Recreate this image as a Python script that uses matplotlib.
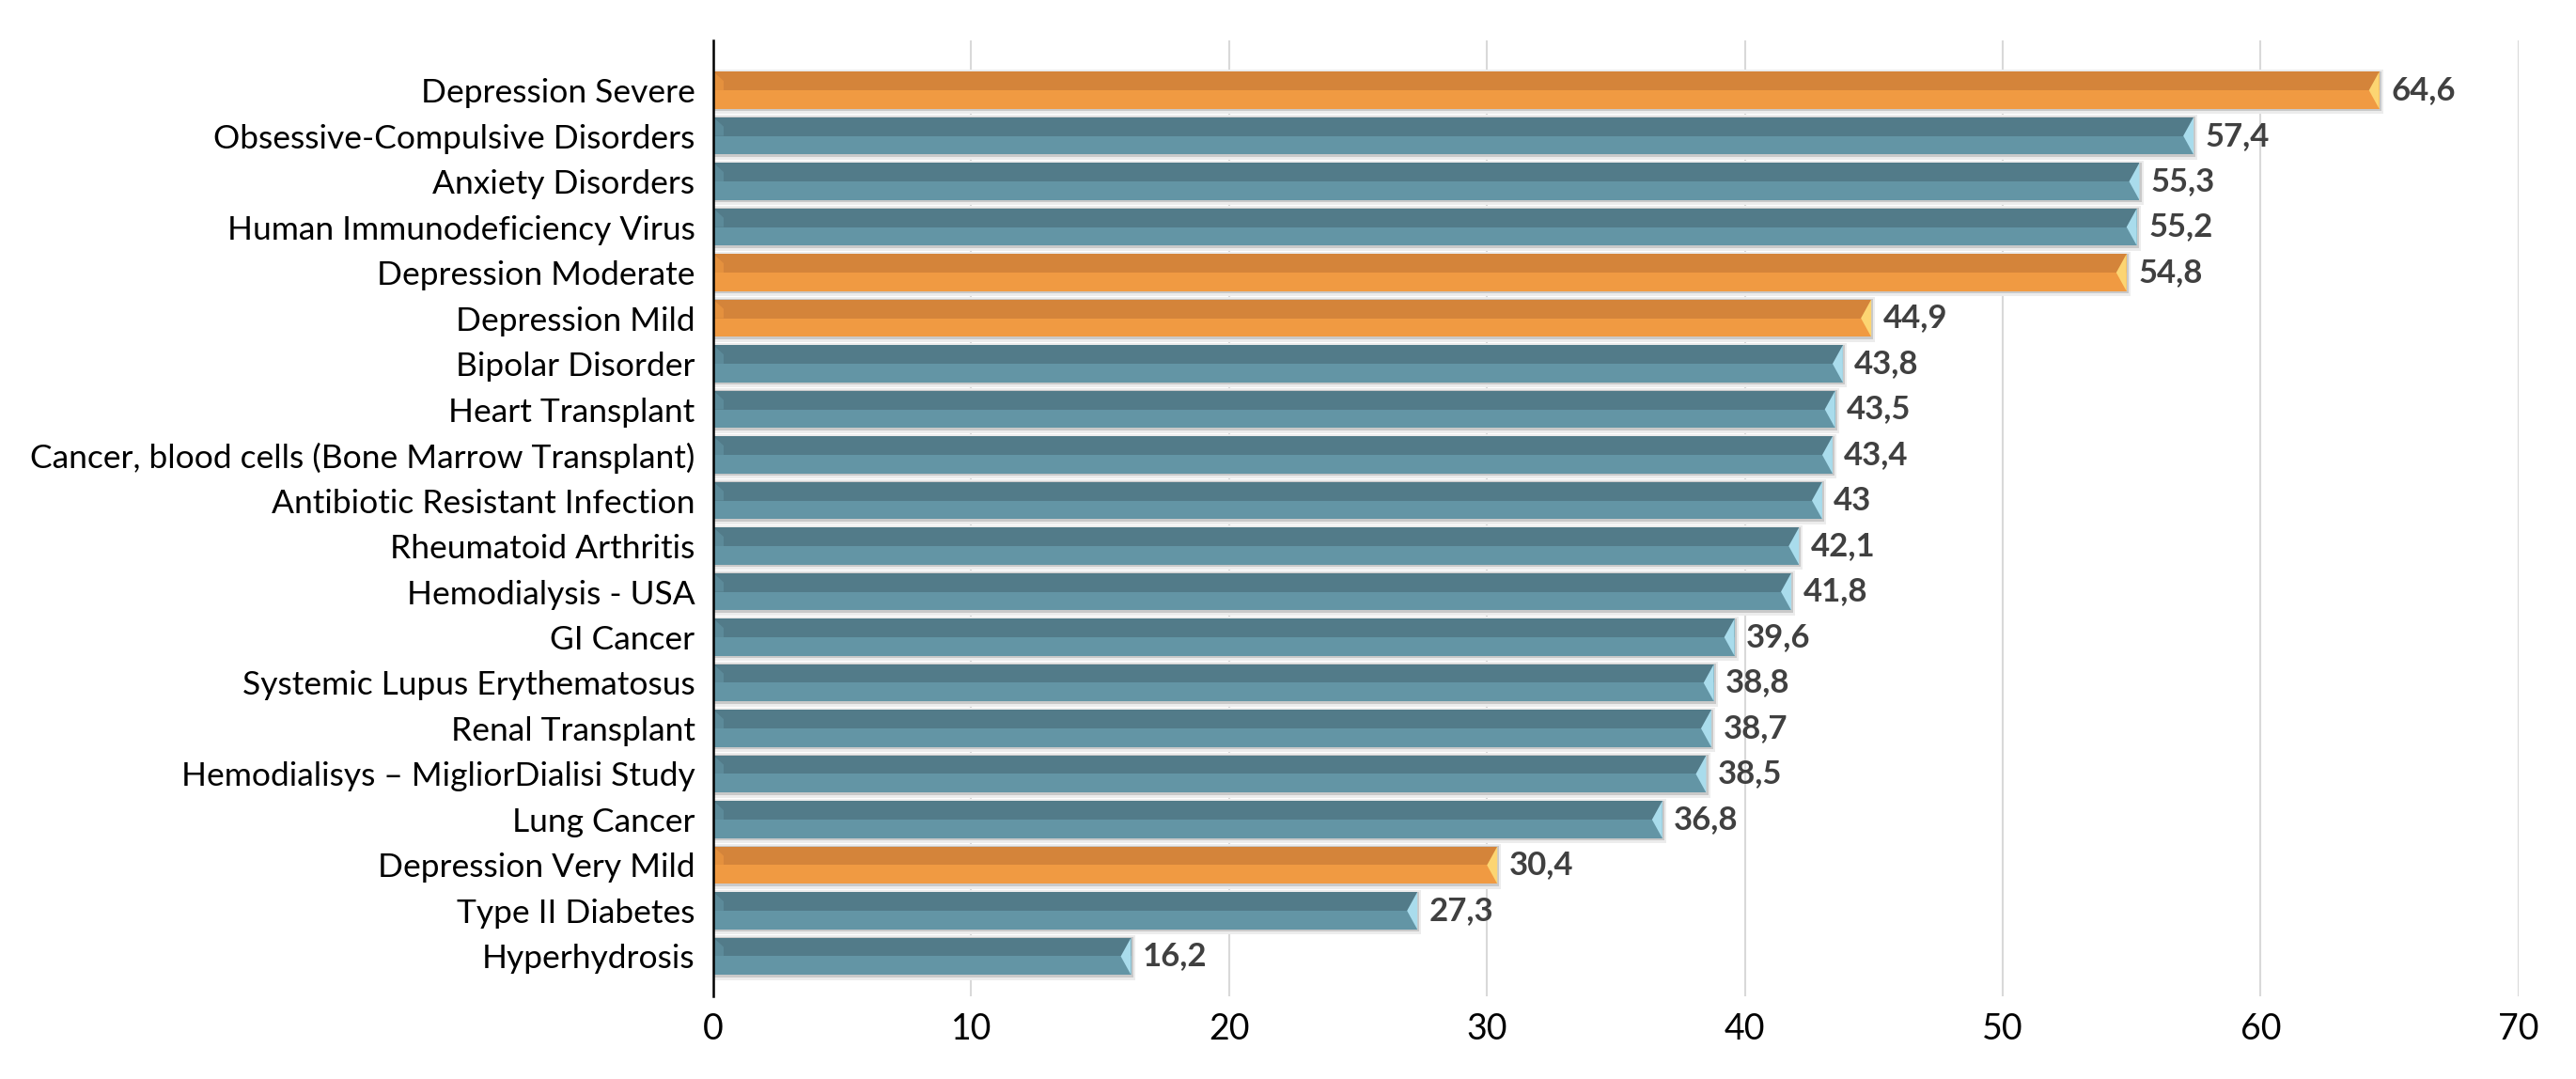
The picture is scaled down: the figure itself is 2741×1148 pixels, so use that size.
#!/usr/bin/python3

import matplotlib
matplotlib.use('Agg')
import matplotlib.pyplot as plt
from matplotlib.patches import Polygon
import numpy as np


categories = [
    'Depression Severe',
    'Obsessive-Compulsive Disorders',
    'Anxiety Disorders',
    'Human Immunodeficiency Virus',
    'Depression Moderate',
    'Depression Mild',
    'Bipolar Disorder',
    'Heart Transplant',
    'Cancer, blood cells (Bone Marrow Transplant)',
    'Antibiotic Resistant Infection',
    'Rheumatoid Arthritis',
    'Hemodialysis - USA',
    'GI Cancer',
    'Systemic Lupus Erythematosus',
    'Renal Transplant',
    'Hemodialisys \u2013 MigliorDialisi Study',
    'Lung Cancer',
    'Depression Very Mild',
    'Type II Diabetes',
    'Hyperhydrosis',
]
values = [64.6, 57.4, 55.3, 55.2, 54.8, 44.9, 43.8, 43.5, 43.4, 43.0,
          42.1, 41.8, 39.6, 38.8, 38.7, 38.5, 36.8, 30.4, 27.3, 16.2]
highlight = ['Depression Severe', 'Depression Moderate',
             'Depression Mild', 'Depression Very Mild']
xticks = [0, 10, 20, 30, 40, 50, 60, 70]

# colours: (top half, bottom half, bevel tip)
ORANGE = ('#d4843a', '#f09a42', '#fcd572')
TEAL = ('#527b89', '#6395a5', '#a9dcec')


def fmt(v):
    s = ('%.1f' % v).rstrip('0').rstrip('.')
    return s.replace('.', ',')


def main():
    plt.rcParams['font.family'] = ['Lato', 'DejaVu Sans']

    fig = plt.figure(figsize=(27.41, 11.48), dpi=100)
    ax = fig.add_axes([0.2769, 0.0767, 0.7008, 0.8858])

    y = np.arange(len(categories))
    h = 0.82
    colors = [ORANGE if c in highlight else TEAL for c in categories]

    # soft shadow behind each bar
    ax.barh(y + 0.03, [v + 0.15 for v in values], height=h + 0.16,
            color='#ececec', zorder=1)
    ax.barh(y + 0.02, [v + 0.08 for v in values], height=h + 0.05,
            color='#c9c9c9', zorder=1.5)

    ax.barh(y - h / 4, values, height=h / 2, color=[c[0] for c in colors],
            zorder=2)
    ax.barh(y + h / 4, values, height=h / 2, color=[c[1] for c in colors],
            zorder=2)

    d = 0.4
    for yi, v, c in zip(y, values, colors):
        # right bevel tip
        tip = Polygon([(v, yi - h / 2), (v - d, yi), (v, yi + h / 2)],
                      closed=True, facecolor=c[2], edgecolor='none', zorder=3)
        ax.add_patch(tip)
        # left bevel
        lb = Polygon([(0, yi - h / 2), (d, yi - h / 4), (d, yi), (0, yi)],
                     closed=True, facecolor=c[1], edgecolor='none',
                     alpha=0.6, zorder=3)
        ax.add_patch(lb)
        ax.text(v + 0.45, yi, fmt(v), va='center', ha='left',
                fontsize=25, fontweight='bold', color='#404040', zorder=4)

    ax.set_xlim(0, 70)
    ax.set_ylim(19.876, -1.093)
    ax.set_xticks(xticks)
    ax.set_yticks(y)
    ax.set_yticklabels(categories, fontsize=25.5, color='#000000')
    ax.tick_params(axis='x', labelsize=27, length=0, pad=12)
    ax.tick_params(axis='y', length=0, pad=14)

    ax.grid(axis='x', color='#d9d9d9', linewidth=1.5, zorder=0)
    ax.set_axisbelow(True)
    for s in ['top', 'right', 'bottom']:
        ax.spines[s].set_visible(False)
    ax.spines['left'].set_color('#000000')
    ax.spines['left'].set_linewidth(1.8)
    ax.spines['left'].set_zorder(5)

    fig.savefig('out.png', dpi=100, facecolor='white')


if __name__ == '__main__':
    main()
